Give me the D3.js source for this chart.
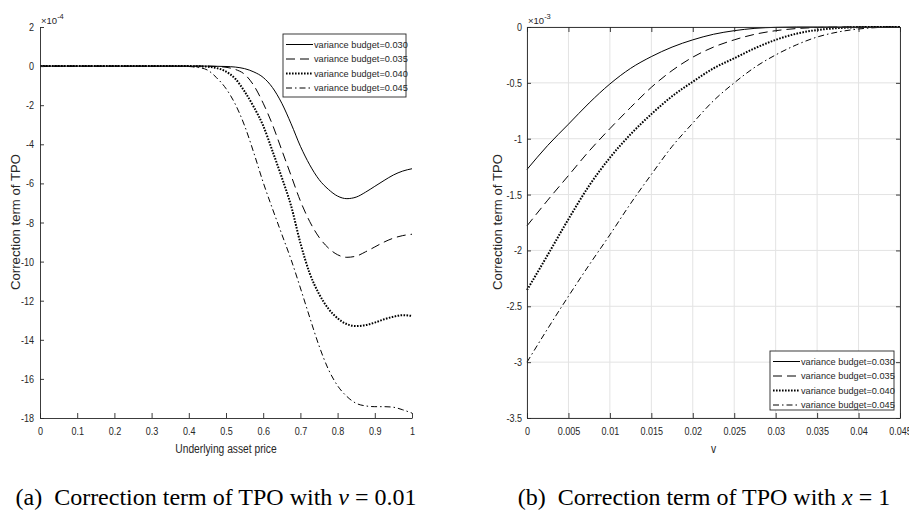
<!DOCTYPE html>
<html>
<head>
<meta charset="utf-8">
<script src="https://cdn.jsdelivr.net/npm/d3@7"></script>
<style>
  body { margin: 0; background: #fff; }
  svg text { fill: #262626; }
</style>
</head>
<body>
<svg id="chart" width="909" height="511"></svg>
<script>
// ---- data ----
const budgets = ["0.030", "0.035", "0.040", "0.045"];

// (a) correction term vs underlying asset price, units of 1e-4
const assetPrice = [0, 0.1, 0.2, 0.3, 0.35, 0.4, 0.425, 0.45, 0.475, 0.5, 0.525, 0.55, 0.575, 0.6,
  0.625, 0.65, 0.675, 0.7, 0.725, 0.75, 0.775, 0.8, 0.825, 0.85, 0.875, 0.9, 0.925, 0.95, 0.975, 1];
const tpoA030 = [0, 0, 0, 0, 0, 0, 0, 0, -0.01, -0.02, -0.05, -0.13, -0.3, -0.58,
  -1.1, -1.9, -2.95, -4.1, -5.05, -5.8, -6.3, -6.65, -6.78, -6.7, -6.45, -6.15, -5.85, -5.57, -5.37, -5.25];
const tpoA035 = [0, 0, 0, 0, 0, 0, 0, 0, -0.02, -0.06, -0.17, -0.42, -1.0, -1.9,
  -3.0, -4.3, -5.6, -6.9, -7.95, -8.75, -9.3, -9.65, -9.78, -9.72, -9.5, -9.25, -9.0, -8.8, -8.67, -8.6];
const tpoA040 = [0, 0, 0, 0, 0, 0, -0.01, -0.03, -0.1, -0.28, -0.65, -1.3, -2.1, -3.05,
  -4.35, -5.7, -7.15, -9.05, -10.6, -11.65, -12.4, -12.9, -13.2, -13.3, -13.25, -13.12, -12.95, -12.82, -12.74, -12.78];
const tpoA045 = [0, 0, 0, 0, 0, -0.02, -0.07, -0.2, -0.6, -1.15, -1.95, -3.05, -4.45, -5.95,
  -7.3, -8.6, -9.9, -11.35, -12.85, -14.3, -15.5, -16.35, -16.9, -17.25, -17.38, -17.42, -17.42, -17.45, -17.58, -17.75];

// (b) correction term vs v, units of 1e-3
const vValues = [0, 0.0025, 0.005, 0.0075, 0.01, 0.0125, 0.015, 0.0175, 0.02, 0.0225,
  0.025, 0.0275, 0.03, 0.0325, 0.035, 0.0375, 0.04, 0.0425, 0.045];
const tpoB030 = [-1.275, -1.06, -0.87, -0.68, -0.51, -0.37, -0.265, -0.18, -0.115, -0.065,
  -0.033, -0.012, -0.003, 0, 0, 0, 0, 0, 0];
const tpoB035 = [-1.78, -1.55, -1.33, -1.11, -0.91, -0.72, -0.54, -0.39, -0.27, -0.18,
  -0.115, -0.065, -0.033, -0.014, -0.005, -0.001, 0, 0, 0];
const tpoB040 = [-2.355, -2.04, -1.72, -1.42, -1.17, -0.96, -0.78, -0.62, -0.49, -0.37,
  -0.28, -0.19, -0.115, -0.06, -0.027, -0.01, -0.002, 0, 0];
const tpoB045 = [-3.0, -2.7, -2.41, -2.13, -1.86, -1.58, -1.32, -1.07, -0.86, -0.66,
  -0.5, -0.36, -0.25, -0.16, -0.09, -0.045, -0.018, -0.004, 0];

const xTicksA = [0, 0.1, 0.2, 0.3, 0.4, 0.5, 0.6, 0.7, 0.8, 0.9, 1];
const yTicksA = [-18, -16, -14, -12, -10, -8, -6, -4, -2, 0, 2];
const xTicksB = [0, 0.005, 0.01, 0.015, 0.02, 0.025, 0.03, 0.035, 0.04, 0.045];
const yTicksB = [-3.5, -3, -2.5, -2, -1.5, -1, -0.5, 0];

// matlab-ish line styles: -, --, :, -.
const styles = [
  { dash: null, width: 1 },
  { dash: "9,5", width: 1 },
  { dash: "1.6,1.4", width: 2 },
  { dash: "6,3,1.5,3", width: 1 }
];

const svg = d3.select("#chart");
const sans = "'Liberation Sans', Arial, sans-serif";
const axisColor = "#262626";

// the original figure was squashed sideways, so horizontal text is narrow
function squeeze(sel, f) {
  sel.each(function () {
    const w = this.getComputedTextLength();
    d3.select(this).attr("textLength", w * f).attr("lengthAdjust", "spacingAndGlyphs");
  });
}

function panel(cfg) {
  const g = svg.append("g");
  const x = d3.scaleLinear().domain(cfg.xDomain).range(cfg.xRange);
  const y = d3.scaleLinear().domain(cfg.yDomain).range([418, 27]);

  if (cfg.grid) {
    g.append("g").selectAll("line").data(cfg.xTicks).join("line")
      .attr("x1", d => x(d)).attr("x2", d => x(d))
      .attr("y1", y.range()[0]).attr("y2", y.range()[1])
      .attr("stroke", "#e3e3e3").attr("stroke-width", 1);
    g.append("g").selectAll("line").data(cfg.yTicks).join("line")
      .attr("y1", d => y(d)).attr("y2", d => y(d))
      .attr("x1", x.range()[0]).attr("x2", x.range()[1])
      .attr("stroke", "#e3e3e3").attr("stroke-width", 1);
  }

  const line = d3.line()
    .x((d, i) => x(cfg.xs[i]))
    .y(d => y(d))
    .curve(d3.curveMonotoneX);

  g.append("g").selectAll("path").data(cfg.series).join("path")
    .attr("d", line)
    .attr("fill", "none")
    .attr("stroke", "#000")
    .attr("stroke-width", (d, i) => styles[i].width)
    .attr("stroke-dasharray", (d, i) => styles[i].dash);

  const fmt = d => String(d);
  g.append("g")
    .attr("transform", `translate(0,${y.range()[0]})`)
    .call(d3.axisBottom(x).tickValues(cfg.xTicks).tickFormat(fmt)
      .tickSizeInner(-5).tickSizeOuter(0).tickPadding(9));
  g.append("g")
    .attr("transform", `translate(${x.range()[0]},0)`)
    .call(d3.axisLeft(y).tickValues(cfg.yTicks).tickFormat(fmt)
      .tickSizeInner(-4).tickSizeOuter(0).tickPadding(cfg.yPad));

  if (cfg.box) {
    g.append("g")
      .attr("transform", `translate(0,${y.range()[1]})`)
      .call(d3.axisTop(x).tickValues(cfg.xTicks).tickFormat("")
        .tickSizeInner(-5).tickSizeOuter(0));
    g.append("g")
      .attr("transform", `translate(${x.range()[1]},0)`)
      .call(d3.axisRight(y).tickValues(cfg.yTicks).tickFormat("")
        .tickSizeInner(-4).tickSizeOuter(0));
  }

  g.selectAll(".domain, .tick line").attr("stroke", axisColor).attr("stroke-width", 0.9);
  const tickText = g.selectAll(".tick text")
    .attr("font-family", sans).attr("font-size", 11).attr("fill", axisColor);
  squeeze(tickText, 0.82);

  // exponent label
  const ex = g.append("text")
    .attr("x", x.range()[0] + 1).attr("y", 24)
    .attr("font-family", sans).attr("font-size", 9.5);
  ex.append("tspan").text("\u00d710");
  ex.append("tspan").attr("dy", -5).attr("font-size", 7.5).text(cfg.exponent);

  // axis titles
  const xt = g.append("text")
    .attr("x", d3.mean(x.range())).attr("y", 453)
    .attr("text-anchor", "middle")
    .attr("font-family", sans).attr("font-size", 12.5)
    .text(cfg.xTitle);
  squeeze(xt, 0.82);
  g.append("text")
    .attr("transform", `translate(${cfg.yTitleX},222) rotate(-90)`)
    .attr("text-anchor", "middle")
    .attr("font-family", sans).attr("font-size", 13.2)
    .text("Correction term of TPO");

  // legend
  const lg = g.append("g");
  const L = cfg.legend;
  lg.append("rect")
    .attr("x", L.x).attr("y", L.y).attr("width", L.w).attr("height", L.h)
    .attr("fill", "#fff").attr("stroke", axisColor).attr("stroke-width", 0.9);
  const rows = lg.selectAll("g.row").data(budgets).join("g")
    .attr("transform", (d, i) => `translate(${L.x},${L.y + 10.5 + i * 14.5})`);
  rows.append("line")
    .attr("x1", 3).attr("x2", 30)
    .attr("stroke", "#000")
    .attr("stroke-width", (d, i) => styles[i].width)
    .attr("stroke-dasharray", (d, i) => styles[i].dash);
  rows.append("text")
    .attr("x", 31).attr("dy", "0.35em")
    .attr("font-family", sans).attr("font-size", 9.2)
    .text(d => "variance budget=" + d);
}

panel({
  xs: assetPrice,
  series: [tpoA030, tpoA035, tpoA040, tpoA045],
  xDomain: [0, 1], xRange: [40, 412],
  yDomain: [-18, 2],
  xTicks: xTicksA, yTicks: yTicksA,
  yPad: 6, grid: false, box: false,
  exponent: "-4",
  xTitle: "Underlying asset price",
  yTitleX: 20,
  legend: { x: 283, y: 34, w: 123, h: 63 }
});

panel({
  xs: vValues,
  series: [tpoB030, tpoB035, tpoB040, tpoB045],
  xDomain: [0, 0.045], xRange: [527, 900],
  yDomain: [-3.5, 0],
  xTicks: xTicksB, yTicks: yTicksB,
  yPad: 5, grid: true, box: true,
  exponent: "-3",
  xTitle: "v",
  yTitleX: 502,
  legend: { x: 770, y: 351, w: 124, h: 59 }
});

// sub-figure captions
function caption(cx, label, parts) {
  const t = svg.append("text")
    .attr("x", cx).attr("y", 505)
    .attr("text-anchor", "middle")
    .attr("font-family", "'Liberation Serif', 'Times New Roman', serif")
    .attr("font-size", 24)
    .style("fill", "#000");
  t.append("tspan").text(label);
  parts.forEach(p => {
    const s = t.append("tspan").text(p.text);
    if (p.italic) s.attr("font-style", "italic");
    if (p.dx) s.attr("dx", p.dx);
  });
}
caption(216, "(a)", [
  { text: "Correction term of TPO with ", dx: 12 },
  { text: "v", italic: true },
  { text: "= 0.01", dx: 6 }
]);
caption(704, "(b)", [
  { text: "Correction term of TPO with ", dx: 12 },
  { text: "x", italic: true },
  { text: "= 1", dx: 6 }
]);
</script>
</body>
</html>
